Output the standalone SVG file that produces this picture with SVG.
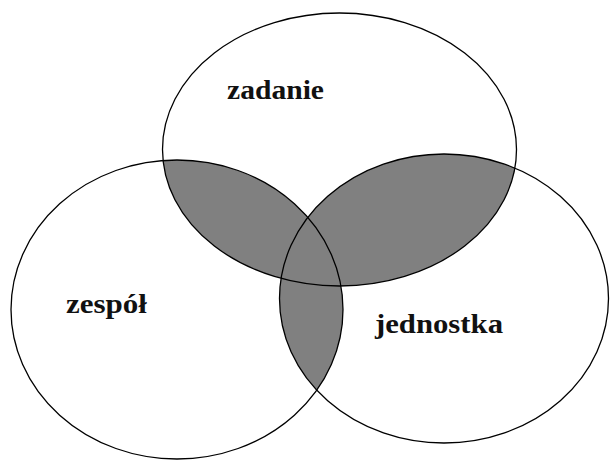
<svg xmlns="http://www.w3.org/2000/svg" width="610" height="460" viewBox="0 0 610 460">
<style>
.ring{fill:none;stroke:#000;stroke-width:1.3}
.shade{fill:#808080;stroke:none}
.lbl{font-family:"Liberation Serif","Times New Roman",serif;font-weight:bold;font-size:27px;fill:#111}
</style>
<defs>
<clipPath id="clipA"><ellipse cx="339.5" cy="149.5" rx="177" ry="136.5"/></clipPath>
<clipPath id="clipB"><ellipse cx="177" cy="309.5" rx="166" ry="149.5"/></clipPath>
</defs>
<rect width="610" height="460" fill="#fff"/>
<g id="overlaps">
<ellipse class="shade" cx="177" cy="309.5" rx="166" ry="149.5" clip-path="url(#clipA)"/>
<ellipse class="shade" cx="444" cy="298.5" rx="164.5" ry="144.5" clip-path="url(#clipA)"/>
<ellipse class="shade" cx="444" cy="298.5" rx="164.5" ry="144.5" clip-path="url(#clipB)"/>
</g>
<g id="zadanie">
<ellipse class="ring" cx="339.5" cy="149.5" rx="177" ry="136.5"/>
<text class="lbl" x="227" y="99" textLength="97" lengthAdjust="spacingAndGlyphs">zadanie</text>
</g>
<g id="zespol">
<ellipse class="ring" cx="177" cy="309.5" rx="166" ry="149.5"/>
<text class="lbl" x="66" y="313" textLength="81" lengthAdjust="spacingAndGlyphs">zespół</text>
</g>
<g id="jednostka">
<ellipse class="ring" cx="444" cy="298.5" rx="164.5" ry="144.5"/>
<text class="lbl" x="375" y="333" textLength="128" lengthAdjust="spacingAndGlyphs">jednostka</text>
</g>
</svg>
